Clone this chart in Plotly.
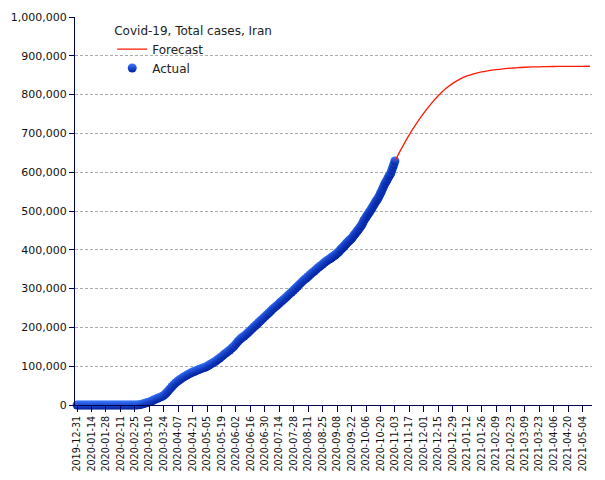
import pandas as pd
import plotly.graph_objects as go

# Actual cumulative cases, every 2 days from 2019-12-31 to 2020-08-31
actual_start = "2019-12-31"
actual_values_2day = [
    0, 0, 0, 0, 0, 0, 0, 0, 0, 0, 0, 0, 0, 0, 0, 0, 0, 0, 0, 0, 0, 0, 0, 0, 0,
    2, 18, 43, 95, 245, 593, 1501, 2922, 4747, 6566, 8042, 10075, 12729, 14991,
    17361, 19644, 21638, 24811, 29406, 35408, 41495, 47593, 53183, 58226, 62589,
    66220, 70029, 73303, 76389, 79494, 82211, 84802, 87026, 89328, 91472, 93657,
    95646, 97424, 99970, 103135, 106220, 109286, 112725, 116635, 120198, 124603,
    129341, 133521, 137724, 141591, 146668, 151466, 157562, 164270, 169425,
    173832, 177938, 182525, 187427, 192439, 197647, 202584, 207525, 212501,
    217724, 222669, 227662, 232863, 237878, 243051, 248379, 252720, 257303,
    262173, 267061, 271606, 276202, 281413, 286523, 291172, 296273, 301530,
    306752, 312035, 317483, 322567, 326712, 331189, 336324, 341070, 345450,
    350279, 354764, 358905, 363363, 367796, 371816, 375212,
]

# Actual cumulative cases, daily from 2020-09-01 to 2020-11-03
daily_start = "2020-09-01"
actual_values_daily = [
    377000, 378752, 380746, 382773, 384666, 386658, 388810, 391112, 393425,
    395488, 399940, 402029, 404648, 407353, 410334, 413149, 416198, 419043,
    422140, 424404, 426500, 429193, 432798, 436319, 439882, 443086, 446448,
    449960, 453637, 457219, 461044, 464596, 470000, 475674, 479825, 483844,
    488236, 492378, 496253, 500075, 504281, 508389, 513219, 517835, 522387,
    526490, 530380, 534631, 539670, 545286, 550757, 556891, 562705, 568896,
    574000, 578000, 583000, 588648, 592800, 596941, 604900, 612772, 620491,
    628780,
]

# Forecast, weekly starting 2020-11-03
forecast_start = "2020-11-03"
forecast_values = [
    629000, 664000, 697000, 726000, 752000, 776000, 797000, 815000, 829000,
    840000, 848000, 854000, 858500, 862000, 864500, 866500, 868000, 869500,
    870500, 871200, 871700, 872100, 872400, 872600, 872800, 872900, 873000,
    873100,
]

title_text = "Covid-19, Total cases, Iran"

actual_dates = list(pd.date_range(actual_start, periods=len(actual_values_2day), freq="2D")) + \
    list(pd.date_range(daily_start, periods=len(actual_values_daily), freq="D"))
actual_values = actual_values_2day + actual_values_daily
forecast_dates = pd.date_range(forecast_start, periods=len(forecast_values), freq="7D")

fig = go.Figure()
fig.add_trace(go.Scatter(
    x=actual_dates, y=actual_values, mode="markers", name="Actual",
    marker=dict(size=9, color="#3a78ff", line=dict(width=0),
                gradient=dict(type="vertical", color="#0020a0")),
    cliponaxis=False, legendrank=2,
))
fig.add_trace(go.Scatter(
    x=forecast_dates, y=forecast_values, mode="lines", name="Forecast",
    line=dict(color="#ff1a00", width=1.3, shape="spline"),
    legendrank=1,
))

axis_color = "#000050"
fig.update_layout(
    width=605, height=480,
    margin=dict(l=75, r=13, t=17, b=75),
    plot_bgcolor="white", paper_bgcolor="white",
    font=dict(family="DejaVu Sans", color="#111"),
    showlegend=True,
    legend=dict(
        title=dict(text=title_text, font=dict(size=12, color="#222")),
        x=0.072, y=0.995, xanchor="left", yanchor="top",
        bgcolor="rgba(0,0,0,0)", font=dict(size=12, color="#222"),
        itemwidth=30, tracegroupgap=0,
    ),
    xaxis=dict(
        type="date", range=["2019-12-29", "2021-05-13"],
        tick0="2019-12-31", dtick=14 * 86400000, tickformat="%Y-%m-%d",
        tickangle=-90, tickfont=dict(size=9.6, color="#111"),
        ticks="outside", ticklen=6, tickcolor=axis_color,
        showline=True, linecolor=axis_color, linewidth=1,
        showgrid=False, zeroline=False, automargin=False,
    ),
    yaxis=dict(
        range=[0, 1000000], dtick=100000, tickformat=",d",
        tickfont=dict(size=11, color="#111"),
        ticks="outside", ticklen=5, tickcolor=axis_color,
        showline=True, linecolor=axis_color, linewidth=1,
        showgrid=True, gridcolor="#aaaaaa", griddash="3px,2px", gridwidth=1,
        zeroline=False, automargin=False,
    ),
)

fig.write_html(
    "out.html",
    config={"displayModeBar": False},
    post_script="document.body.style.margin='0';document.body.style.overflow='hidden';",
)
